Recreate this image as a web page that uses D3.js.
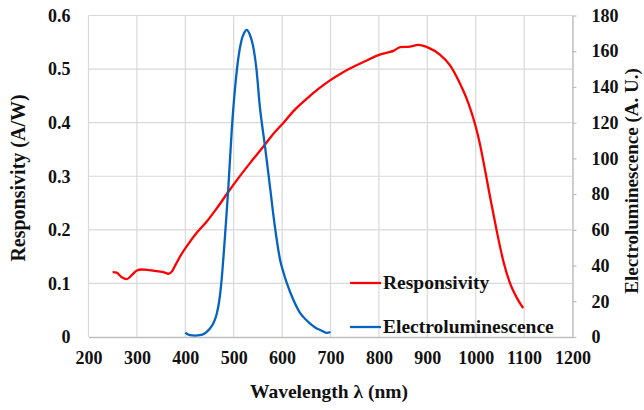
<!DOCTYPE html>
<html><head><meta charset="utf-8">
<script src="https://cdn.jsdelivr.net/npm/d3@7"></script>
<style>body{margin:0;background:#fff}svg{display:block}text{font-family:"Liberation Serif","Times New Roman",serif;font-weight:bold;fill:#111}</style>
</head><body>
<script>
const xTicks = [200,300,400,500,600,700,800,900,1000,1100,1200];
const yLeftTicks = [0,0.1,0.2,0.3,0.4,0.5,0.6];
const yRightTicks = [0,20,40,60,80,100,120,140,160,180];
const respWavelength = [250,258,268,279,290,300,310,325,348,358,365,372,380,393,405,424,444,465,489,510,534,561,580,603,625,650,675,699,720,740,770,802,823,830,844,864,881,902,926,947,967,985,999,1009,1019,1030,1043,1057,1071,1085,1098];
const respValues = [0.121,0.120,0.112,0.108,0.116,0.124,0.126,0.125,0.122,0.120,0.118,0.122,0.135,0.156,0.172,0.195,0.215,0.240,0.271,0.297,0.325,0.355,0.377,0.400,0.423,0.444,0.463,0.479,0.491,0.501,0.514,0.527,0.532,0.534,0.541,0.542,0.545,0.540,0.527,0.507,0.474,0.436,0.396,0.359,0.313,0.260,0.200,0.142,0.100,0.073,0.054];
const elWavelength = [400,405,410,420,430,440,450,458,465,470,475,480,485,489,496,503,510,516,522,527,533,540,547,554,560,565,575,585,596,603,610,623,637,650,658,670,680,692,700];
const elValues = [2.5,1.5,1.0,0.8,1.0,2.0,4.5,7.7,13,20,32,49,68,84,116,140,157,166,170.5,172,169.5,163,150,129,116,106,84,62,43,36,30,21,13.5,9.5,7.5,5,3.8,2.3,2.8];
const seriesNames = ["Responsivity","Electroluminescence"];
const seriesColors = ["#ff0000","#0563c1"];

const W=644,H=410;
const svg=d3.select("body").append("svg").attr("width",W).attr("height",H);
const x=d3.scaleLinear().domain([200,1200]).range([88.5,572.5]);
const yL=d3.scaleLinear().domain([0,0.6]).range([337,15.5]);
const yR=d3.scaleLinear().domain([0,180]).range([337,15.5]);

const g=svg.append("g");
g.selectAll(".vg").data(xTicks.slice(0,-1)).enter().append("line")
 .attr("x1",d=>x(d)).attr("x2",d=>x(d)).attr("y1",yL(0)).attr("y2",yL(0.6))
 .attr("stroke","#d9d9d9").attr("stroke-width",1.2);
g.selectAll(".hg").data(yLeftTicks.slice(1)).enter().append("line")
 .attr("x1",x(200)).attr("x2",x(1200)).attr("y1",d=>yL(d)).attr("y2",d=>yL(d))
 .attr("stroke","#d9d9d9").attr("stroke-width",1.2);

const xAxis=svg.append("g").attr("transform",`translate(0,${yL(0)})`)
 .call(d3.axisBottom(x).tickValues(xTicks).tickSize(0).tickPadding(14).tickFormat(d3.format("d")));
xAxis.select(".domain").attr("stroke","#bfbfbf").attr("stroke-width",1.5);
xAxis.selectAll("text").attr("font-size",18).attr("fill","#111");

const yAxisL=svg.append("g").attr("transform",`translate(${x(200)},0)`)
 .call(d3.axisLeft(yL).tickValues(yLeftTicks).tickSize(0).tickPadding(18).tickFormat(d=>d===0?"0":d3.format(".1f")(d)));
yAxisL.select(".domain").remove();
yAxisL.selectAll("text").attr("font-size",18).attr("fill","#111");

const yAxisR=svg.append("g").attr("transform",`translate(${x(1200)},0)`)
 .call(d3.axisRight(yR).tickValues(yRightTicks).tickSizeOuter(0).tickSizeInner(4).tickPadding(15));
yAxisR.select(".domain").attr("stroke","#bfbfbf").attr("stroke-width",1.5);
yAxisR.selectAll(".tick line").attr("stroke","#bfbfbf").attr("stroke-width",1.2);
yAxisR.selectAll("text").attr("font-size",18).attr("fill","#111");

const respData=respWavelength.map((w,i)=>[w,respValues[i]]);
const elData=elWavelength.map((w,i)=>[w,elValues[i]]);
svg.append("path").datum(respData)
 .attr("d",d3.line().x(d=>x(d[0])).y(d=>yL(d[1])).curve(d3.curveMonotoneX))
 .attr("fill","none").attr("stroke",seriesColors[0]).attr("stroke-width",2.3);
svg.append("path").datum(elData)
 .attr("d",d3.line().x(d=>x(d[0])).y(d=>yR(d[1])).curve(d3.curveMonotoneX))
 .attr("fill","none").attr("stroke",seriesColors[1]).attr("stroke-width",2.3);

svg.append("text").attr("x",329).attr("y",398).attr("text-anchor","middle").attr("font-size",19.5).text("Wavelength λ (nm)");
svg.append("text").attr("transform","translate(25,178) rotate(-90)").attr("text-anchor","middle").attr("font-size",20).text("Responsivity (A/W)");
svg.append("text").attr("transform","translate(638,181) rotate(-90)").attr("text-anchor","middle").attr("font-size",19).text("Electroluminescence (A. U.)");

const lg=svg.append("g");
const ly=[283,327];
seriesNames.forEach((n,i)=>{
  lg.append("line").attr("x1",350).attr("x2",381).attr("y1",ly[i]).attr("y2",ly[i]).attr("stroke",seriesColors[i]).attr("stroke-width",2.3);
  lg.append("text").attr("x",383).attr("y",ly[i]+5.5).attr("font-size",19.5).text(n);
});
</script>
</body></html>
